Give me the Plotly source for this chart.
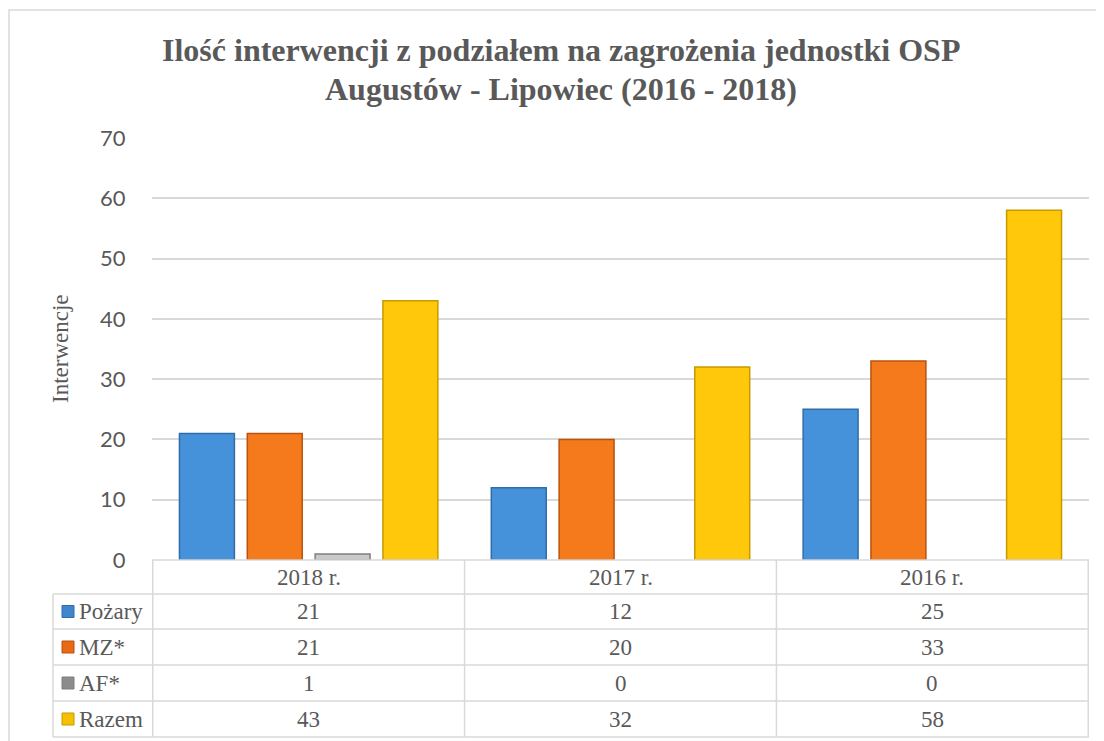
import plotly.graph_objects as go

# ---- data ----
categories = ["2018 r.", "2017 r.", "2016 r."]
series_names = ["Pożary", "MZ*", "AF*", "Razem"]
pozary = [21, 12, 25]
mz = [21, 20, 33]
af = [1, 0, 0]
razem = [43, 32, 58]
y_ticks = [0, 10, 20, 30, 40, 50, 60, 70]

series_values = [pozary, mz, af, razem]
fill_colors = ["#4592DA", "#F47A1C", "#C9C9C9", "#FFC80A"]
line_colors = ["#2F6DAA", "#B9530E", "#7F7F7F", "#C79A00"]
legend_colors = ["#3F86CC", "#E86A14", "#8C8C8C", "#F4C000"]

W, H = 1104, 741
OFF = 8  # page body margin
# plot area in screen pixels (reference), converted to figure pixels
L, R, T, B = 152 - OFF, 1089 - OFF, 138 - OFF, 560 - OFF


def px(p):
    return ((p - OFF) - L) / (R - L)


def py(p):
    return (B - (p - OFF)) / (B - T)


fig = go.Figure()
for name, vals, fc, lc in zip(series_names, series_values, fill_colors, line_colors):
    fig.add_trace(go.Bar(
        x=categories, y=vals, name=name,
        marker=dict(color=fc, line=dict(color=lc, width=[1.5 if v else 0 for v in vals])),
        showlegend=False,
    ))

grid = "#D9D9D9"
text_col = "#595959"
serif = "Liberation Serif"

shapes = []
annotations = []

# outer chart border
shapes.append(dict(type="rect", xref="paper", yref="paper",
                   x0=px(9), x1=px(1120), y0=py(10), y1=py(760),
                   line=dict(color=grid, width=1.5), fillcolor="rgba(0,0,0,0)"))

# table geometry (screen pixels)
row_edges = [560, 594, 629, 665, 701, 737]
tab_left = 53

# horizontal lines
shapes.append(dict(type="line", xref="paper", yref="paper", x0=0, x1=1,
                   y0=py(row_edges[0]), y1=py(row_edges[0]), line=dict(color=grid, width=1.5)))
for r in row_edges[1:]:
    shapes.append(dict(type="line", xref="paper", yref="paper", x0=px(tab_left), x1=1,
                       y0=py(r), y1=py(r), line=dict(color=grid, width=1.5)))
# vertical lines
shapes.append(dict(type="line", xref="paper", yref="paper", x0=px(tab_left), x1=px(tab_left),
                   y0=py(row_edges[1]), y1=py(row_edges[-1]), line=dict(color=grid, width=1.5)))
for i in range(len(categories) + 1):
    shapes.append(dict(type="line", xref="x", yref="paper", x0=i - 0.5, x1=i - 0.5,
                       y0=py(row_edges[0]), y1=py(row_edges[-1]), line=dict(color=grid, width=1.5)))

# header row: category names
hdr_c = (row_edges[0] + row_edges[1]) / 2
for c in categories:
    annotations.append(dict(x=c, xref="x", y=py(hdr_c), yref="paper", text=c,
                            showarrow=False, xanchor="center", yanchor="middle",
                            font=dict(family=serif, size=23, color=text_col)))

# data rows
for k, (name, vals) in enumerate(zip(series_names, series_values)):
    rc = (row_edges[k + 1] + row_edges[k + 2]) / 2
    shapes.append(dict(type="rect", xref="paper", yref="paper",
                       x0=px(62), x1=px(74), y0=py(rc - 6), y1=py(rc + 6),
                       fillcolor=legend_colors[k], line=dict(color=line_colors[k], width=1)))
    annotations.append(dict(x=px(77), xref="paper", y=py(rc), yref="paper", text=name,
                            showarrow=False, xanchor="left", yanchor="middle",
                            font=dict(family=serif, size=23, color=text_col)))
    for c, v in zip(categories, vals):
        annotations.append(dict(x=c, xref="x", y=py(rc), yref="paper", text=str(v),
                                showarrow=False, xanchor="center", yanchor="middle",
                                font=dict(family=serif, size=23, color=text_col)))

# title
annotations.append(dict(x=px(561), xref="paper", y=py(50), yref="paper",
                        text="<b>Ilość interwencji z podziałem na zagrożenia jednostki OSP</b>",
                        showarrow=False, xanchor="center", yanchor="middle",
                        font=dict(family=serif, size=32, color=text_col)))
annotations.append(dict(x=px(561), xref="paper", y=py(89), yref="paper",
                        text="<b>Augustów - Lipowiec (2016 - 2018)</b>",
                        showarrow=False, xanchor="center", yanchor="middle",
                        font=dict(family=serif, size=32, color=text_col)))

# y axis title
annotations.append(dict(x=px(60), xref="paper", y=py(349), yref="paper",
                        text="Interwencje", textangle=-90,
                        showarrow=False, xanchor="center", yanchor="middle",
                        font=dict(family=serif, size=23, color=text_col)))

fig.update_layout(
    width=W, height=H,
    margin=dict(l=L, r=W - R, t=T, b=H - B, pad=0),
    paper_bgcolor="white", plot_bgcolor="white",
    barmode="group", bargap=0.13, bargroupgap=0.19,
    shapes=shapes, annotations=annotations,
    xaxis=dict(showticklabels=False, showgrid=False, zeroline=False, showline=False,
               ticks="", fixedrange=True),
    yaxis=dict(range=[0, 70], tickvals=y_ticks, showgrid=True, gridcolor=grid, gridwidth=1.5,
               zeroline=False, showline=False, ticks="outside", ticklen=21, tickcolor="rgba(0,0,0,0)",
               tickfont=dict(family="Lato", size=22, color=text_col), fixedrange=True),
)

fig.write_html("out.html")
